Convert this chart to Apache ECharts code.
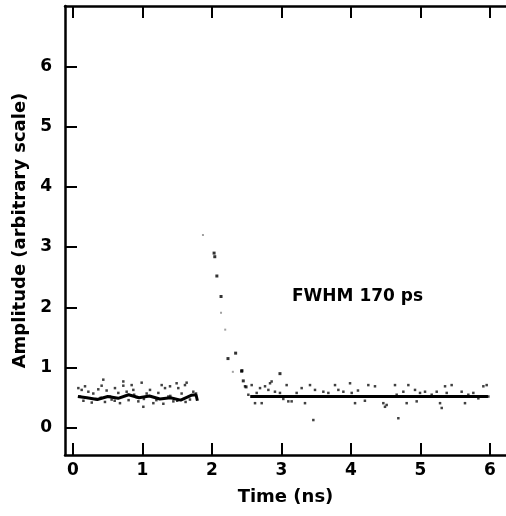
<!DOCTYPE html>
<html>
<head>
<meta charset="utf-8">
<script src="https://cdn.jsdelivr.net/npm/echarts@6/dist/echarts.min.js"></script>
<style>html,body{margin:0;padding:0;background:#fff;}#c{width:506px;height:516px;}</style>
</head>
<body>
<div id="c"></div>
<script>
// Tick values
var xTicks = [0, 1, 2, 3, 4, 5, 6];
var yTicks = [0, 1, 2, 3, 4, 5, 6];

// Baseline fit (left, wavy) and (right, flat)
var fitLeftX = [0.07, 0.20, 0.35, 0.50, 0.65, 0.80, 0.95, 1.10, 1.25, 1.40, 1.55, 1.70, 1.77, 1.79];
var fitLeftY = [0.52, 0.50, 0.47, 0.52, 0.49, 0.55, 0.50, 0.53, 0.48, 0.50, 0.46, 0.54, 0.55, 0.45];
var fitRightX = [2.55, 5.97];
var fitRightY = [0.52, 0.52];

// Noise dots around the baseline
var noiseX = [0.077,0.125,0.173,0.221,0.292,0.364,0.412,0.436,0.484,0.532,0.556,0.604,0.652,0.676,0.724,0.724,0.772,0.844,0.868,0.916,0.940,0.988,1.012,1.060,1.108,1.156,1.228,1.276,1.324,1.372,1.396,1.444,1.491,1.515,1.563,1.611,1.635,1.683,1.731,1.770,
  0.15,0.27,0.33,0.46,0.60,0.80,1.02,1.20,1.30,1.50,1.62,0.10,0.40,0.88,1.40,
  2.475,2.571,2.691,2.763,2.835,2.858,2.811,2.906,2.978,3.026,3.074,3.098,3.146,3.218,3.290,3.338,3.410,3.482,3.530,3.458,3.602,3.674,3.770,3.818,3.890,3.986,4.010,4.058,4.153,2.619,2.715,2.523,2.643,
  4.10,4.20,4.249,4.345,4.465,4.489,4.513,4.633,4.657,4.681,4.753,4.801,4.825,4.921,4.945,4.993,5.065,5.161,5.233,5.281,5.305,5.353,5.377,5.448,5.496,5.592,5.640,5.688,5.760,5.832,5.904,5.952,5.976];
var noiseY = [0.66,0.63,0.69,0.60,0.57,0.64,0.70,0.80,0.62,0.52,0.47,0.66,0.58,0.41,0.77,0.70,0.60,0.71,0.63,0.51,0.44,0.75,0.35,0.57,0.63,0.41,0.58,0.71,0.66,0.52,0.69,0.44,0.74,0.66,0.57,0.71,0.75,0.47,0.60,0.57,
  0.45,0.42,0.48,0.43,0.45,0.46,0.48,0.46,0.40,0.45,0.43,0.52,0.50,0.55,0.53,
  0.69,0.71,0.66,0.69,0.74,0.77,0.63,0.60,0.58,0.48,0.71,0.44,0.44,0.58,0.66,0.41,0.71,0.63,0.52,0.13,0.60,0.58,0.71,0.63,0.60,0.74,0.58,0.41,0.52,0.41,0.41,0.55,0.58,
  0.62,0.45,0.71,0.69,0.41,0.35,0.38,0.71,0.55,0.16,0.60,0.41,0.71,0.63,0.44,0.58,0.60,0.55,0.60,0.41,0.33,0.69,0.58,0.71,0.52,0.60,0.41,0.55,0.58,0.49,0.69,0.71,0.52];

// Pulse points (dark) and faint pulse points
var pulseX = [2.03, 2.04, 2.07, 2.13, 2.23, 2.34, 2.43, 2.45, 2.49, 2.427, 2.978];
var pulseY = [2.90, 2.84, 2.52, 2.18, 1.15, 1.24, 0.95, 0.78, 0.68, 0.94, 0.90];
var faintX = [1.87, 2.13, 2.19, 2.30];
var faintY = [3.20, 1.91, 1.63, 0.93];

var annotation = 'FWHM 170 ps';

function zip(a, b) { return a.map(function (v, i) { return [v, b[i]]; }); }

var FONT = '"DejaVu Sans", sans-serif';
var chart = echarts.init(document.getElementById('c'), null, {renderer: 'canvas'});
var axisLineStyle = {color: '#000', width: 2.5};
var tickStyle = {color: '#000', width: 2};

chart.setOption({
  animation: false,
  backgroundColor: '#fff',
  grid: {left: 65, top: 6, width: 441, height: 449, containLabel: false},
  xAxis: [{
    type: 'value', min: -0.115, max: 6.23, position: 'bottom',
    axisLine: {show: true, lineStyle: axisLineStyle, onZero: false},
    axisTick: {show: true, inside: true, length: 12, lineStyle: tickStyle, customValues: xTicks},
    axisLabel: {show: true, customValues: xTicks, margin: 7, color: '#000', fontFamily: FONT, fontWeight: 'bold', fontSize: 17},
    splitLine: {show: false},
    name: 'Time (ns)', nameLocation: 'middle', nameGap: 33,
    nameTextStyle: {color: '#000', fontFamily: FONT, fontWeight: 'bold', fontSize: 18}
  }, {
    type: 'value', min: -0.115, max: 6.23, position: 'top',
    axisLine: {show: true, lineStyle: axisLineStyle, onZero: false},
    axisTick: {show: true, inside: true, length: 12, lineStyle: tickStyle, customValues: xTicks},
    axisLabel: {show: false},
    splitLine: {show: false}
  }],
  yAxis: [{
    type: 'value', min: -0.45, max: 7.0, position: 'left',
    axisLine: {show: true, lineStyle: axisLineStyle, onZero: false},
    axisTick: {show: true, inside: true, length: 12, lineStyle: tickStyle, customValues: yTicks},
    axisLabel: {show: true, customValues: yTicks, margin: 13, color: '#000', fontFamily: FONT, fontWeight: 'bold', fontSize: 17},
    splitLine: {show: false},
    name: 'Amplitude (arbitrary scale)', nameLocation: 'middle', nameGap: 33,
    nameTextStyle: {color: '#000', fontFamily: FONT, fontWeight: 'bold', fontSize: 18}
  }, {
    type: 'value', min: -0.45, max: 7.0, position: 'right',
    axisLine: {show: false},
    axisTick: {show: true, inside: true, length: 8, lineStyle: tickStyle, customValues: yTicks},
    axisLabel: {show: false},
    splitLine: {show: false}
  }],
  graphic: [{
    type: 'text', left: 292, top: 288,
    style: {text: annotation, fill: '#000', font: 'bold 17px ' + FONT}
  }],
  series: [
    {type: 'line', data: zip(fitLeftX, fitLeftY), showSymbol: false, lineStyle: {color: '#000', width: 3}, z: 3},
    {type: 'line', data: zip(fitRightX, fitRightY), showSymbol: false, lineStyle: {color: '#000', width: 3}, z: 3},
    {type: 'scatter', data: zip(noiseX, noiseY), symbol: 'rect', symbolSize: 2.5, itemStyle: {color: '#111'}},
    {type: 'scatter', data: zip(pulseX, pulseY), symbol: 'rect', symbolSize: 3, itemStyle: {color: '#000'}},
    {type: 'scatter', data: zip(faintX, faintY), symbol: 'rect', symbolSize: 2, itemStyle: {color: '#888'}}
  ]
});
</script>
</body>
</html>
